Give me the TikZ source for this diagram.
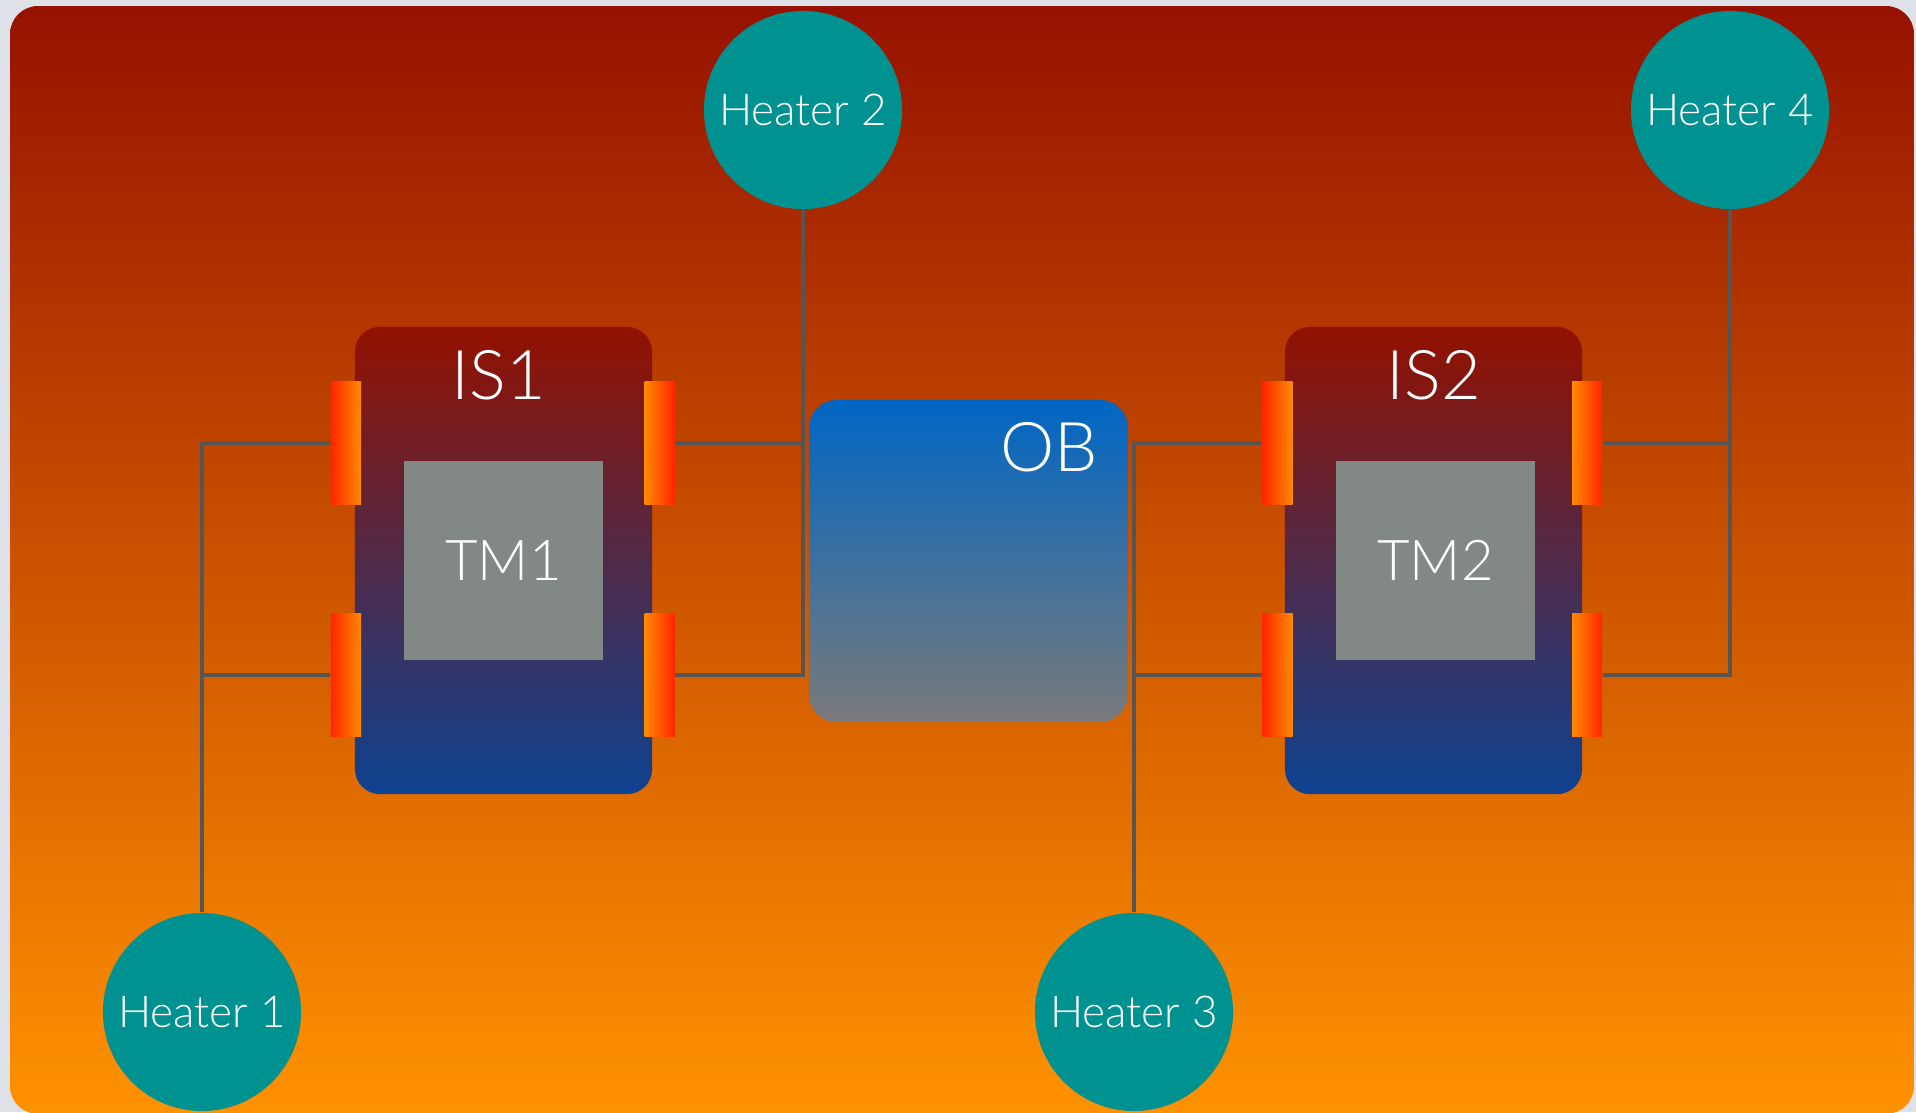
\documentclass[tikz,border=0pt]{standalone}
\usepackage{fontspec}
\setmainfont{Lato Light}
\definecolor{pagebg}{RGB}{222,226,232}
\definecolor{bgTop}{RGB}{150,18,0}
\definecolor{bgBot}{RGB}{255,146,0}
\definecolor{isTop}{RGB}{147,17,0}
\definecolor{isBot}{RGB}{14,66,145}
\definecolor{obTop}{RGB}{0,102,196}
\definecolor{obBot}{RGB}{122,122,122}
\definecolor{padred}{RGB}{255,38,0}
\definecolor{padorange}{RGB}{255,138,0}
\definecolor{tmgrey}{RGB}{130,136,134}
\definecolor{heaterc}{RGB}{0,146,144}
\definecolor{wirec}{RGB}{85,85,85}
\begin{document}
\begin{tikzpicture}[x=0.01cm,y=-0.01cm,
  padbox/.style={rectangle, minimum width=0.30cm, minimum height=1.22cm, inner sep=0pt},
  padL/.style={padbox, left color=padred, right color=padorange},
  padR/.style={padbox, left color=padorange, right color=padred},
  isbox/.style={rectangle, rounded corners=0.25cm, minimum width=2.97cm, minimum height=4.67cm, top color=isTop, bottom color=isBot, inner sep=0pt},
  obbox/.style={rectangle, rounded corners=0.28cm, minimum width=3.19cm, minimum height=3.22cm, top color=obTop, bottom color=obBot, inner sep=0pt},
  tmbox/.style={rectangle, fill=tmgrey, minimum width=1.99cm, minimum height=1.99cm, inner sep=0pt, text=white, font=\fontsize{16}{19}\selectfont},
  biglabel/.style={text=white, inner sep=0pt, font=\fontsize{19.5}{23}\selectfont},
  heater/.style={circle, fill=heaterc, minimum size=1.98cm, inner sep=0pt, text=white, font=\fontsize{12.5}{15}\selectfont},
  wire/.style={draw=wirec, line width=0.035cm}
]
\useasboundingbox (0,0) rectangle (1916,1112);
\fill[pagebg] (0,0) rectangle (1916,1112);
\shade[top color=bgTop, bottom color=bgBot, rounded corners=0.28cm] (10,6) rectangle (1914,1114);

% boxes
\node[isbox] (is1) at (503.5,560.5) {};
\node[isbox] (is2) at (1433.5,560.5) {};
\node[obbox] (ob) at (968.5,561) {};
\node[tmbox] (tm1) at (503.5,560.5) {TM1};
\node[tmbox] (tm2) at (1435.5,560.5) {TM2};
\node[biglabel] (is1lbl) at (499,375) {IS1};
\node[biglabel] (is2lbl) at (1434,375) {IS2};
\node[biglabel] (oblbl) at (1049,447.5) {OB};

% pads
\node[padL] (p1l1) at (346,443) {};
\node[padL] (p1l2) at (346,675) {};
\node[padR] (p1r1) at (659.5,443) {};
\node[padR] (p1r2) at (659.5,675) {};
\node[padL] (p2l1) at (1277.5,443) {};
\node[padL] (p2l2) at (1277.5,675) {};
\node[padR] (p2r1) at (1587,443) {};
\node[padR] (p2r2) at (1587,675) {};

% heaters
\node[heater] (h1) at (202,1012) {Heater 1};
\node[heater] (h2) at (803,110) {Heater 2};
\node[heater] (h3) at (1134,1012) {Heater 3};
\node[heater] (h4) at (1730,110) {Heater 4};

% wires
\draw[wire] (h1.north) |- (p1l1.west);
\draw[wire] (h1.north) |- (p1l2.west);
\draw[wire] (h2.south) |- (p1r1.east);
\draw[wire] (h2.south) |- (p1r2.east);
\draw[wire] (h3.north) |- (p2l1.west);
\draw[wire] (h3.north) |- (p2l2.west);
\draw[wire] (h4.south) |- (p2r1.east);
\draw[wire] (h4.south) |- (p2r2.east);
\end{tikzpicture}
\end{document}
